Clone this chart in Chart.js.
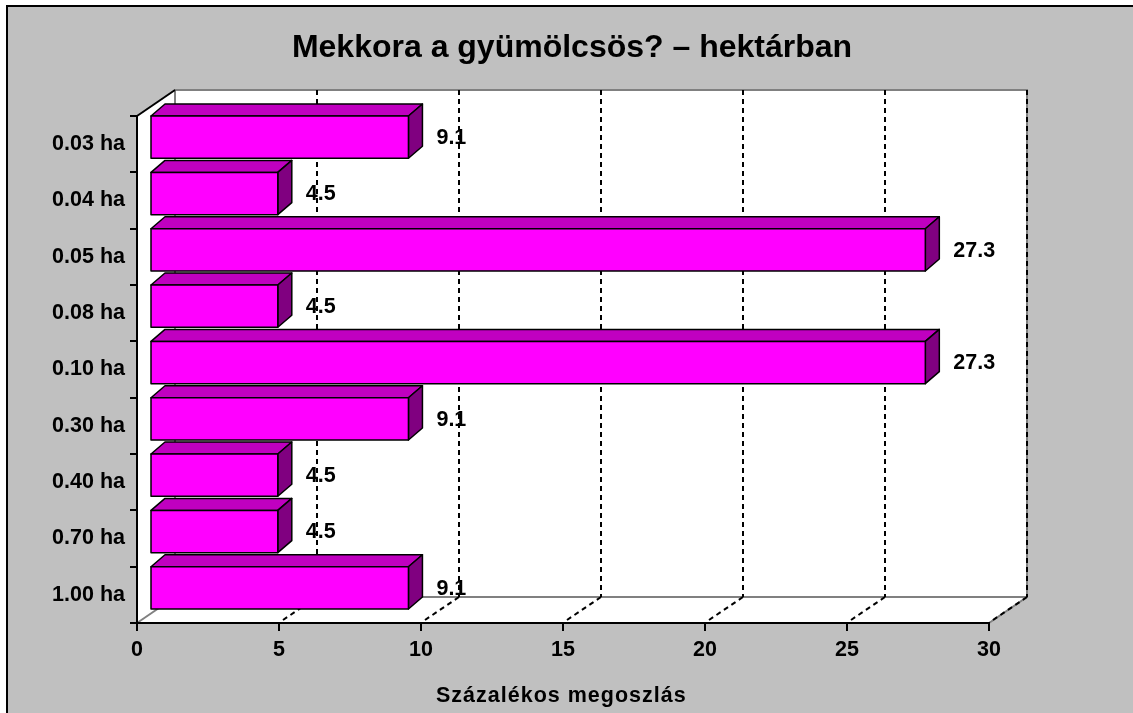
<!DOCTYPE html>
<html>
<head>
<meta charset="utf-8">
<script src="https://cdn.jsdelivr.net/npm/chart.js@4.4.1/dist/chart.umd.min.js"></script>
<style>
  html, body { margin: 0; padding: 0; background: #fff; overflow: hidden; }
  #wrap { width: 1133px; height: 713px; position: relative; }
</style>
</head>
<body>
<div id="wrap"><canvas id="chart"></canvas></div>
<script>
const categories = ["0.03 ha", "0.04 ha", "0.05 ha", "0.08 ha", "0.10 ha", "0.30 ha", "0.40 ha", "0.70 ha", "1.00 ha"];
const shares = [9.1, 4.5, 27.3, 4.5, 27.3, 9.1, 4.5, 4.5, 9.1];
const xTicks = [0, 5, 10, 15, 20, 25, 30];
const titleText = "Mekkora a gyümölcsös? – hektárban";
const axisTitle = "Százalékos megoszlás";

const FONT = "'Liberation Sans', Arial, sans-serif";
// depth of the 3D box, and placement / depth of the bars inside it
const WALL_DX = 38, WALL_DY = -26;
const BAR_SHIFT_X = 13, BAR_SHIFT_Y = -7;
const BAR_DX = 14, BAR_DY = -12;

function poly(ctx, pts, fill, stroke) {
  ctx.beginPath();
  ctx.moveTo(pts[0][0], pts[0][1]);
  for (let i = 1; i < pts.length; i++) ctx.lineTo(pts[i][0], pts[i][1]);
  ctx.closePath();
  if (fill) { ctx.fillStyle = fill; ctx.fill(); }
  if (stroke) { ctx.strokeStyle = stroke; ctx.stroke(); }
}

function line(ctx, x0, y0, x1, y1) {
  ctx.beginPath();
  ctx.moveTo(x0, y0);
  ctx.lineTo(x1, y1);
  ctx.stroke();
}

const box3d = {
  id: "box3d",
  beforeDraw(chart) {
    const { ctx, chartArea: a, width, height } = chart;
    const L = a.left, R = a.right, T = a.top, B = a.bottom;
    const bl = L + WALL_DX, br = R + WALL_DX, bt = T + WALL_DY, bb = B + WALL_DY;
    ctx.save();
    ctx.fillStyle = "#ffffff";
    ctx.fillRect(0, 0, width, height);
    ctx.fillStyle = "#c0c0c0";
    ctx.fillRect(7, 6, width, height);
    ctx.strokeStyle = "#000";
    ctx.lineWidth = 2;
    ctx.beginPath();
    ctx.moveTo(7, height);
    ctx.lineTo(7, 6);
    ctx.lineTo(width, 6);
    ctx.stroke();

    // walls and floor
    ctx.fillStyle = "#fff";
    ctx.fillRect(bl, bt, br - bl, bb - bt);
    poly(ctx, [[L, T], [bl, bt], [bl, bb], [L, B]], "#fff");
    poly(ctx, [[L, B], [bl, bb], [br, bb], [R, B]], "#fff");

    ctx.strokeStyle = "#808080";
    ctx.lineWidth = 2;
    ctx.beginPath();
    ctx.moveTo(bl, bb);
    ctx.lineTo(bl, bt);
    ctx.lineTo(br, bt);
    ctx.lineTo(br, bb);
    ctx.lineTo(bl, bb);
    ctx.stroke();
    line(ctx, L, B, bl, bb);
    line(ctx, R, B, br, bb);
    ctx.strokeStyle = "#000";
    line(ctx, L, T, bl, bt);

    // dashed gridlines on the back wall and floor
    const xs = chart.scales.x;
    ctx.setLineDash([5, 4]);
    ctx.strokeStyle = "#000";
    xTicks.forEach((v) => {
      if (v === 0) return;
      const px = xs.getPixelForValue(v);
      line(ctx, px + WALL_DX, bt, px + WALL_DX, bb);
      line(ctx, px + 4, B - 3, px + WALL_DX, bb);
    });
    ctx.restore();
  },
  beforeDatasetsDraw(chart) {
    const { ctx } = chart;
    const meta = chart.getDatasetMeta(0);
    const ds = chart.data.datasets[0];
    ctx.save();
    ctx.lineWidth = 1.5;
    ctx.lineJoin = "round";
    meta.data.forEach((bar, i) => {
      const { x, y, base, height } = bar.getProps(["x", "y", "base", "height"], true);
      const x0 = base + BAR_SHIFT_X, x1 = x + BAR_SHIFT_X;
      const y0 = y - height / 2 + BAR_SHIFT_Y, y1 = y0 + height;
      poly(ctx, [[x0, y0], [x0 + BAR_DX, y0 + BAR_DY], [x1 + BAR_DX, y0 + BAR_DY], [x1, y0]], "#c000c0", "#000");
      poly(ctx, [[x1, y0], [x1 + BAR_DX, y0 + BAR_DY], [x1 + BAR_DX, y1 + BAR_DY], [x1, y1]], "#800080", "#000");
      poly(ctx, [[x0, y0], [x1, y0], [x1, y1], [x0, y1]], ds.backgroundColor, "#000");

      ctx.fillStyle = "#000";
      ctx.font = "bold 21.5px " + FONT;
      ctx.textAlign = "left";
      ctx.textBaseline = "middle";
      ctx.fillText(shares[i].toFixed(1), x1 + BAR_DX + 14, y + BAR_SHIFT_Y + 1);
    });
    ctx.restore();
    return false;
  },
  afterDraw(chart) {
    const { ctx } = chart;
    ctx.save();
    ctx.fillStyle = "#000";
    ctx.textBaseline = "alphabetic";
    ctx.font = "bold 32px " + FONT;
    ctx.textAlign = "center";
    ctx.fillText(titleText, 572, 57);
    ctx.font = "bold 21.5px " + FONT;
    ctx.letterSpacing = "1px";
    ctx.textAlign = "left";
    ctx.fillText(axisTitle, 436, 702);
    ctx.restore();
  },
};

new Chart(document.getElementById("chart"), {
  type: "bar",
  data: {
    labels: categories,
    datasets: [
      {
        data: shares,
        backgroundColor: "#ff00ff",
        borderColor: "#000",
        borderWidth: 1.5,
        barPercentage: 0.75,
        categoryPercentage: 1,
      },
    ],
  },
  options: {
    indexAxis: "y",
    responsive: true,
    maintainAspectRatio: false,
    animation: false,
    layout: {
      padding: { top: 116, right: 144, bottom: 0, left: 0 },
    },
    scales: {
      x: {
        min: 0,
        max: 30,
        afterBuildTicks: (scale) => {
          scale.ticks = xTicks.map((v) => ({ value: v }));
        },
        afterFit: (scale) => {
          scale.height = 90;
        },
        grid: {
          drawOnChartArea: false,
          drawTicks: true,
          tickLength: 8,
          color: "#000",
          lineWidth: 2,
        },
        border: { display: true, color: "#000", width: 2 },
        ticks: {
          color: "#000",
          padding: 6,
          maxRotation: 0,
          font: { family: FONT, size: 21.5, weight: "bold" },
        },
      },
      y: {
        afterFit: (scale) => {
          scale.width = 137;
        },
        grid: {
          offset: true,
          drawOnChartArea: false,
          drawTicks: true,
          tickLength: 7,
          color: "#000",
          lineWidth: 2,
        },
        border: { display: true, color: "#000", width: 2 },
        ticks: {
          color: "#000",
          padding: 5,
          font: { family: FONT, size: 21.5, weight: "bold" },
        },
      },
    },
    plugins: {
      legend: { display: false },
      tooltip: { enabled: false },
    },
  },
  plugins: [box3d],
});
</script>
</body>
</html>
